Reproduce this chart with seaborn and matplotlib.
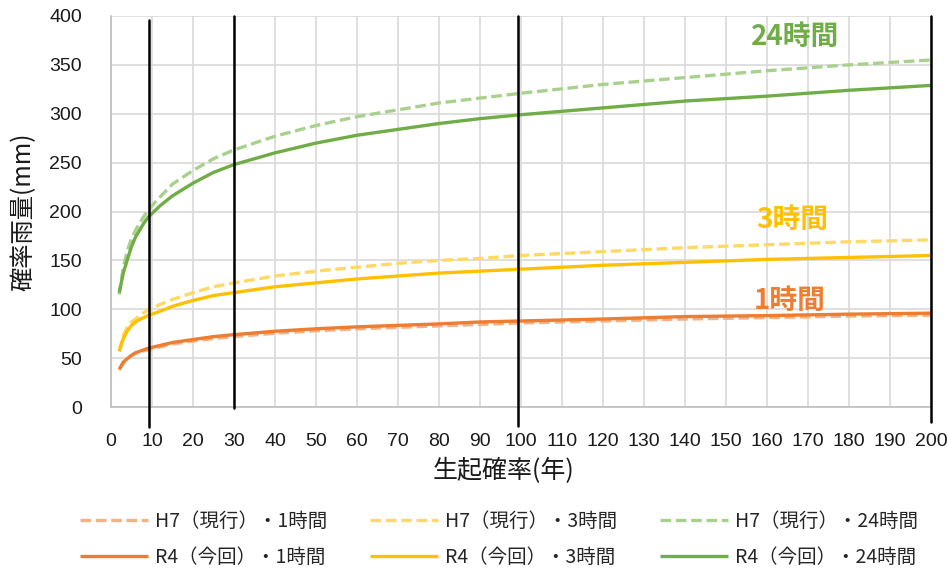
import matplotlib
matplotlib.use("Agg")
import matplotlib.pyplot as plt
import seaborn as sns
import pandas as pd

# ---- data ----
periods = [2, 3, 4, 5, 6, 7, 8, 9, 10, 12, 15, 20, 25, 30, 40, 50, 60, 70, 80, 90, 100, 120, 140, 160, 180, 200]
h7_1h = [38, 45, 49, 52.5, 55, 56.5, 57.5, 58.5, 59.5, 61.5, 64.5, 67.5, 70, 72, 75.5, 78, 80, 81.5, 83, 84.5, 86, 88, 90, 91.5, 93, 94]
r4_1h = [38.5, 46, 49.5, 53, 55.5, 57, 58.5, 60, 61, 63, 66, 69, 72, 74, 77.5, 80, 82, 83.5, 85, 87, 88, 90, 92.5, 93.5, 95, 96]
h7_3h = [57, 73, 82, 87, 90, 93.5, 96.5, 99, 101, 105, 110, 117, 123, 127, 134, 139, 143, 147, 150, 152, 155, 159, 163, 166, 169, 171]
r4_3h = [57, 70, 78, 83.5, 87, 89.5, 91.5, 93.5, 95, 98, 103, 109, 114, 117, 123, 127, 131, 134, 137, 139, 141, 145, 148, 151, 153, 155]
h7_24h = [115, 143, 160, 172, 181, 188, 195, 201, 206, 215, 228, 242, 254, 263, 277, 288, 297, 304, 311, 316, 321, 330, 337, 344, 350, 355]
r4_24h = [117, 137, 151, 164, 174, 181, 188, 194, 198, 206, 216, 229, 240, 248, 260, 270, 278, 284, 290, 295, 299, 306, 313, 318, 324, 329]

series_labels = ["H7（現行）・1時間", "R4（今回）・1時間",
                 "H7（現行）・3時間", "R4（今回）・3時間",
                 "H7（現行）・24時間", "R4（今回）・24時間"]
series_values = [h7_1h, r4_1h, h7_3h, r4_3h, h7_24h, r4_24h]
series_colors = ["#F4B183", "#ED7D31", "#FFD966", "#FFC000", "#A9D18E", "#70AD47"]
series_dashed = [True, False, True, False, True, False]

ref_periods = [9.3, 30, 99.2, 200]
ref_extent = [(-0.051, 0.99), (-0.003, 1.0), (-0.048, 1.0), (-0.038, 1.0)]

duration_labels = ["24時間", "3時間", "1時間"]
duration_colors = ["#70AD47", "#FFC000", "#ED7D31"]
duration_pos = [(166.8, 378.5), (166.1, 191.3), (165.6, 108.4)]

x_ticks = list(range(0, 201, 10))
y_ticks = list(range(0, 401, 50))

# ---- style ----
sns.set_theme(style="white")
plt.rcParams["font.family"] = ["Noto Sans CJK JP", "DejaVu Sans"]

fig = plt.figure(figsize=(9.48, 5.73), dpi=100)
ax = fig.add_axes([111 / 948, 1 - 407 / 573, 820 / 948, 391 / 573])

for lab, vals, col, dashed in zip(series_labels, series_values, series_colors, series_dashed):
    df = pd.DataFrame({"x": periods, "y": vals})
    sns.lineplot(data=df, x="x", y="y", ax=ax, color=col, lw=2.4,
                 label=lab, legend=False, zorder=3)
    l = ax.get_lines()[-1]
    if dashed:
        l.set_dashes((3.2, 1.4))
    l.set_solid_capstyle("butt")

for xv, (y0, y1) in zip(ref_periods, ref_extent):
    ax.axvline(xv, ymin=y0, ymax=y1, color="black", lw=1.8, clip_on=False, zorder=4)

for txt, col, (xx, yy) in zip(duration_labels, duration_colors, duration_pos):
    ax.text(xx, yy, txt, color=col, fontsize=20, fontweight="bold",
            ha="center", va="center", zorder=5)

ax.set_xlim(0, 200)
ax.set_ylim(0, 400)
ax.set_xticks(x_ticks)
ax.set_yticks(y_ticks)
ax.set_xticklabels([str(v) for v in x_ticks], fontfamily=["Liberation Sans", "DejaVu Sans"], fontsize=14)
ax.set_yticklabels([str(v) for v in y_ticks], fontfamily=["Liberation Sans", "DejaVu Sans"], fontsize=14)
ax.tick_params(axis="x", length=0, pad=19, colors="#1a1a1a")
ax.tick_params(axis="y", length=0, pad=21, colors="#1a1a1a")

ax.grid(True, color="#D9D9D9", lw=1.2, zorder=0)
ax.set_axisbelow(True)
for s in ["top", "right"]:
    ax.spines[s].set_visible(False)
for s in ["left", "bottom"]:
    ax.spines[s].set_color("#BFBFBF")
    ax.spines[s].set_linewidth(1.2)

ax.set_xlabel("生起確率(年)", fontsize=18, color="#1a1a1a")
ax.set_ylabel("確率雨量(mm)", fontsize=17.5, color="#1a1a1a")
ax.xaxis.set_label_coords((504 - 111) / 820, (407 - 471) / 391)
ax.yaxis.set_label_coords((23 - 111) / 820, 0.5)
ax.xaxis.label.set_va("center")
ax.yaxis.label.set_va("center")

handles, labels = ax.get_legend_handles_labels()
fig.legend(handles, labels, ncol=3, loc="upper left",
           bbox_to_anchor=(80 / 948, 1 - 511 / 573), frameon=False,
           fontsize=14, handlelength=3.5, handletextpad=0.35,
           columnspacing=2.2, labelspacing=0.78, borderpad=0, borderaxespad=0)

fig.savefig("out.png", dpi=100)
